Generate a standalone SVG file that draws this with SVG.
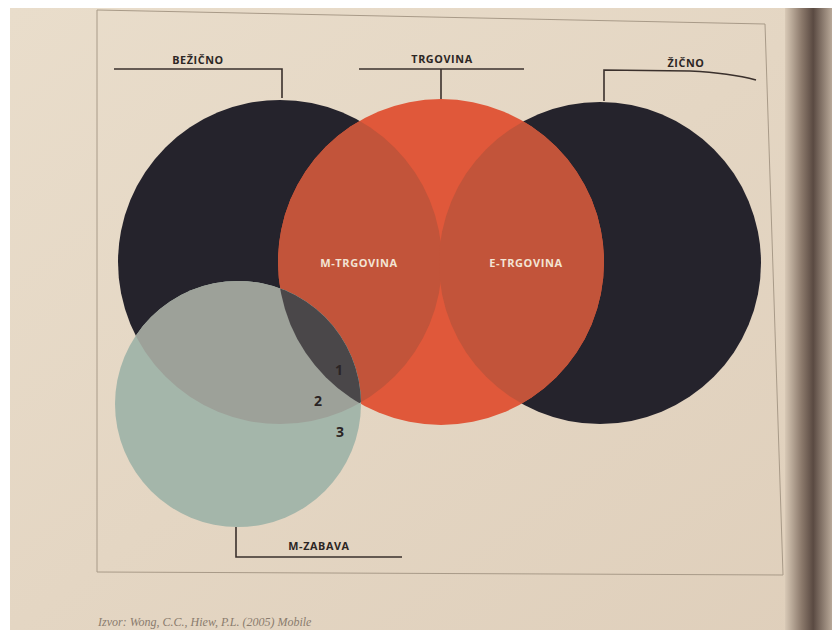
<svg xmlns="http://www.w3.org/2000/svg" width="832" height="630" viewBox="0 0 832 630">
<defs>
<style>
.lbl{font-family:"Open Sans","Liberation Sans",sans-serif;font-weight:700;font-size:10.8px;fill:#2c2624;letter-spacing:0.6px;text-anchor:middle}
.in{font-family:"Open Sans","Liberation Sans",sans-serif;font-weight:700;font-size:11px;fill:#f3e4d4;letter-spacing:0.6px;text-anchor:middle}
.num{font-family:"Open Sans","Liberation Sans",sans-serif;font-weight:700;font-size:14px;fill:#2a2424;text-anchor:middle}
.ln{stroke:#3a302c;stroke-width:1.6;fill:none}
.dark{fill:#25232c}
</style>
<linearGradient id="gut" x1="0" y1="0" x2="1" y2="0">
<stop offset="0" stop-color="#d8c9b6"/>
<stop offset="0.35" stop-color="#8c7a6c"/>
<stop offset="0.6" stop-color="#5a4a42"/>
<stop offset="1" stop-color="#b8a898"/>
</linearGradient>
<linearGradient id="page" x1="0" y1="0" x2="1" y2="1">
<stop offset="0" stop-color="#e9ddcb"/>
<stop offset="1" stop-color="#dfcfbb"/>
</linearGradient>
<clipPath id="cL"><circle cx="280" cy="262" r="162"/></clipPath>
<clipPath id="cR"><circle cx="600" cy="263" r="161"/></clipPath>
<clipPath id="cG"><circle cx="238" cy="404" r="123"/></clipPath>
</defs>
<rect width="832" height="630" fill="#ffffff"/>
<rect x="10" y="8" width="822" height="622" fill="url(#page)"/>
<rect x="785" y="8" width="47" height="622" fill="url(#gut)"/>
<polygon points="97,10 765,24 783,575 97,572" fill="none" stroke="#a89a88" stroke-width="1"/>

<g id="node-bezicno">
<circle class="dark" cx="280" cy="262" r="162"/>
<text class="lbl" x="198" y="64">BEŽIČNO</text>
</g>
<g id="node-zicno">
<circle class="dark" cx="600" cy="263" r="161"/>
<text class="lbl" x="686" y="67">ŽIČNO</text>
</g>
<g id="node-trgovina">
<circle cx="441" cy="262" r="163" fill="#e0583a"/>
<text class="lbl" x="442" y="63">TRGOVINA</text>
</g>
<g id="node-m-trgovina">
<circle cx="441" cy="262" r="163" fill="#c2543a" clip-path="url(#cL)"/>
<text class="in" x="359" y="267">M-TRGOVINA</text>
</g>
<g id="node-e-trgovina">
<circle cx="441" cy="262" r="163" fill="#c2543a" clip-path="url(#cR)"/>
<text class="in" x="526" y="267">E-TRGOVINA</text>
</g>
<g id="node-m-zabava">
<circle cx="238" cy="404" r="123" fill="#a4b6aa"/>
<circle cx="280" cy="262" r="162" fill="#9da199" clip-path="url(#cG)"/>
<g clip-path="url(#cL)"><circle cx="441" cy="262" r="163" fill="#4a4749" clip-path="url(#cG)"/></g>
<text class="lbl" x="319" y="550">M-ZABAVA</text>
<text class="num" x="339" y="375">1</text>
<text class="num" x="318" y="406">2</text>
<text class="num" x="340" y="437">3</text>
</g>

<g id="connectors">
<polyline class="ln" points="114,69 282,69 282,98"/>
<polyline class="ln" points="359,69 524,69"/>
<line class="ln" x1="441" y1="69" x2="441" y2="99"/>
<path class="ln" d="M604,101 L604,70 L690,71 Q730,73 756,80"/>
<polyline class="ln" points="236,527 236,557 402,557"/>
</g>

<text x="98" y="626" font-family="'Liberation Serif',serif" font-style="italic" font-size="12" fill="#8a7c6e">Izvor: Wong, C.C., Hiew, P.L. (2005) Mobile</text>
</svg>
